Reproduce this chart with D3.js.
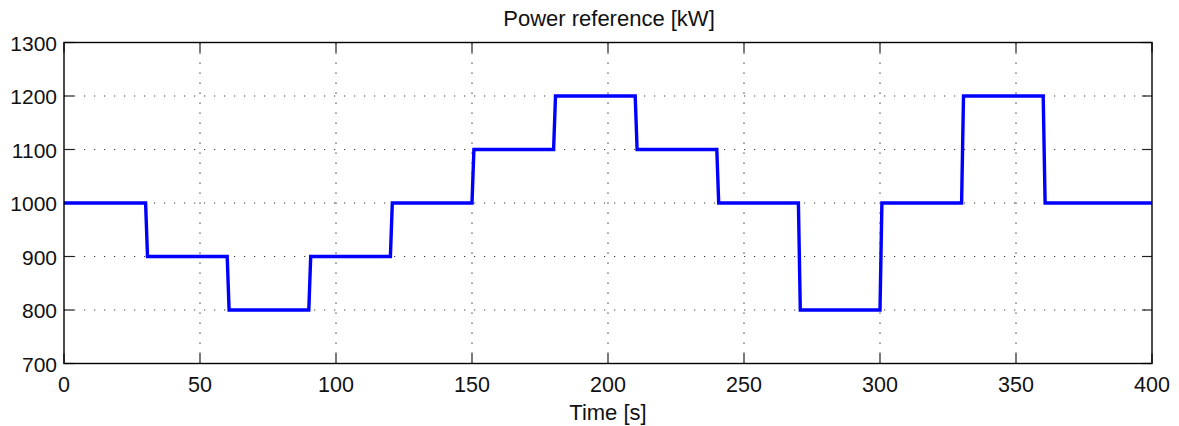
<!DOCTYPE html>
<html>
<head>
<meta charset="utf-8">
<script src="https://cdn.jsdelivr.net/npm/d3@7"></script>
<style>
  body { margin: 0; background: #fff; }
  svg { display: block; font-family: "Liberation Sans", Arial, sans-serif; }
</style>
</head>
<body>
<svg id="chart" width="1179" height="426"></svg>
<script>
// step profile (each step ramps over ~0.7 s)
let time  = [0, 30, 30.7, 60, 60.7, 90, 90.7, 120, 120.7, 150, 150.7, 180, 180.7, 210, 210.7, 240, 240.7, 270, 270.7, 300, 300.7, 330, 330.7, 360, 360.7, 400];
let power = [1000, 1000, 900, 900, 800, 800, 900, 900, 1000, 1000, 1100, 1100, 1200, 1200, 1100, 1100, 1000, 1000, 800, 800, 1000, 1000, 1200, 1200, 1000, 1000];

let xTicks = [0, 50, 100, 150, 200, 250, 300, 350, 400];
let yTicks = [700, 800, 900, 1000, 1100, 1200, 1300];

let title = "Power reference [kW]";
let xLabel = "Time [s]";

let svg = d3.select("#chart");
let plotL = 64, plotR = 1152, plotT = 42.5, plotB = 363.5;

let x = d3.scaleLinear().domain([0, 400]).range([plotL, plotR]);
let y = d3.scaleLinear().domain([700, 1300]).range([plotB, plotT]);

// dotted grid
let grid = svg.append("g")
    .attr("stroke", "#3a3a3a")
    .attr("stroke-width", 1.2)
    .attr("stroke-dasharray", "1.2,8.8");

for (let t of xTicks.slice(1, -1)) {
    grid.append("line")
        .attr("x1", x(t)).attr("x2", x(t))
        .attr("y1", plotT).attr("y2", plotB);
}
for (let v of yTicks.slice(1, -1)) {
    grid.append("line")
        .attr("x1", plotL).attr("x2", plotR)
        .attr("y1", y(v)).attr("y2", y(v));
}

// inner ticks on all four sides
let tickLen = 10;
let ticks = svg.append("g").attr("stroke", "#222").attr("stroke-width", 1.2);
for (let t of xTicks) {
    ticks.append("line").attr("x1", x(t)).attr("x2", x(t)).attr("y1", plotB).attr("y2", plotB - tickLen);
    ticks.append("line").attr("x1", x(t)).attr("x2", x(t)).attr("y1", plotT).attr("y2", plotT + tickLen);
}
for (let v of yTicks) {
    ticks.append("line").attr("x1", plotL).attr("x2", plotL + tickLen).attr("y1", y(v)).attr("y2", y(v));
    ticks.append("line").attr("x1", plotR).attr("x2", plotR - tickLen).attr("y1", y(v)).attr("y2", y(v));
}

// the data line
let line = d3.line()
    .x((d, i) => x(time[i]))
    .y(d => y(d));

svg.append("path")
    .datum(power)
    .attr("fill", "none")
    .attr("stroke", "#0000ff")
    .attr("stroke-width", 3.4)
    .attr("stroke-linejoin", "miter")
    .attr("d", line);

// frame
svg.append("rect")
    .attr("x", plotL).attr("y", plotT)
    .attr("width", plotR - plotL).attr("height", plotB - plotT)
    .attr("fill", "none")
    .attr("stroke", "#000")
    .attr("stroke-width", 1.4);

// tick labels
svg.append("g").selectAll("text")
    .data(yTicks)
    .join("text")
    .attr("x", plotL - 7)
    .attr("y", d => y(d) + 8)
    .attr("text-anchor", "end")
    .attr("font-size", 21)
    .attr("fill", "#111")
    .text(d => d);

svg.append("g").selectAll("text")
    .data(xTicks)
    .join("text")
    .attr("x", d => x(d))
    .attr("y", 392)
    .attr("text-anchor", "middle")
    .attr("font-size", 21.5)
    .attr("fill", "#111")
    .text(d => d);

svg.append("text")
    .attr("x", (plotL + plotR) / 2)
    .attr("y", 420)
    .attr("text-anchor", "middle")
    .attr("font-size", 22)
    .attr("fill", "#111")
    .text(xLabel);

svg.append("text")
    .attr("x", (plotL + plotR) / 2 + 1)
    .attr("y", 26)
    .attr("text-anchor", "middle")
    .attr("font-size", 22)
    .attr("fill", "#111")
    .text(title);
</script>
</body>
</html>
